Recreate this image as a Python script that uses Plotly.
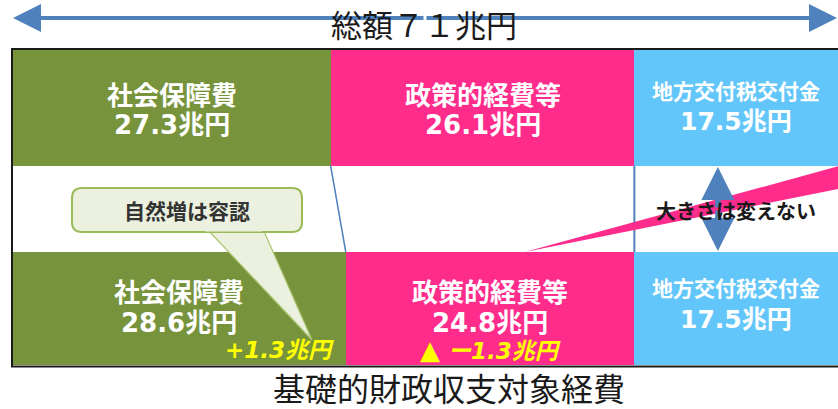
import plotly.graph_objects as go

# ---------------- data ----------------
categories = ["社会保障費", "政策的経費等", "地方交付税交付金"]
budget_before = [27.3, 26.1, 17.5]     # upper row (兆円)
budget_after = [28.6, 24.8, 17.5]      # lower row (兆円)
change_labels = ["+1.3兆円", "ー1.3兆円", ""]
total_label = "総額７１兆円"
bottom_title = "基礎的財政収支対象経費"
callout_text = "自然増は容認"
keep_text = "大きさは変えない"

# ---------------- style ----------------
colors = ["#77933C", "#FF2C8C", "#63C6FA"]
ARROW = "#4F81BD"
W, H = 838, 409
LEFT_PX = 13
total = sum(budget_before)
k = (W - LEFT_PX) / total
x_min = -LEFT_PX / k


def px(p):
    """pixel column -> x data value"""
    return (p - LEFT_PX) / k


TOP = (50, 166)
BOT = (252, 365)
top_c, bot_c = (TOP[0] + TOP[1]) / 2, (BOT[0] + BOT[1]) / 2

fig = go.Figure()
for i, cat in enumerate(categories):
    fig.add_trace(go.Bar(
        x=[budget_before[i], budget_after[i]],
        y=[top_c, bot_c],
        width=[TOP[1] - TOP[0], BOT[1] - BOT[0]],
        orientation="h",
        name=cat,
        marker=dict(color=colors[i], line=dict(width=0)),
        showlegend=False,
        hoverinfo="x+name",
    ))

cum_b = [sum(budget_before[:i]) for i in range(len(budget_before) + 1)]
cum_a = [sum(budget_after[:i]) for i in range(len(budget_after) + 1)]

shapes = []
# frame
shapes.append(dict(type="rect", xref="x", yref="y", x0=px(12), x1=px(W + 20),
                   y0=49, y1=366.5, line=dict(color="#1a1a1a", width=2),
                   fillcolor="rgba(0,0,0,0)", layer="above"))
# connector lines
shapes.append(dict(type="line", xref="x", yref="y", x0=cum_b[1], y0=TOP[1],
                   x1=cum_a[1], y1=BOT[0], line=dict(color=ARROW, width=1.5)))
shapes.append(dict(type="line", xref="x", yref="y", x0=cum_b[2], y0=TOP[1],
                   x1=cum_a[2], y1=BOT[0], line=dict(color=ARROW, width=2)))
# pink wedge
tip = cum_a[1] + 0.62 * budget_after[1]
shapes.append(dict(type="path", xref="x", yref="y",
                   path=f"M {tip},{BOT[0]} L {px(W + 5)},{TOP[1] - 1} L {px(W + 5)},{TOP[1] + 22} Z",
                   fillcolor=colors[1], line=dict(width=0)))
# callout tail
shapes.append(dict(type="path", xref="x", yref="y",
                   path=f"M {px(207)},229 L {px(312)},340 L {px(263)},229 Z",
                   fillcolor="#EBF1DE", line=dict(color="#A9C46E", width=1.2)))
# callout box (rounded)
bx0, bx1, by0, by1, r = 72, 302, 188, 232, 10
path = (f"M {px(bx0 + r)},{by0} L {px(bx1 - r)},{by0} Q {px(bx1)},{by0} {px(bx1)},{by0 + r} "
        f"L {px(bx1)},{by1 - r} Q {px(bx1)},{by1} {px(bx1 - r)},{by1} "
        f"L {px(bx0 + r)},{by1} Q {px(bx0)},{by1} {px(bx0)},{by1 - r} "
        f"L {px(bx0)},{by0 + r} Q {px(bx0)},{by0} {px(bx0 + r)},{by0} Z")
shapes.append(dict(type="path", xref="x", yref="y", path=path,
                   fillcolor="#EBF1DE", line=dict(color="#9BBB59", width=2)))
# cover tail top border inside box
shapes.append(dict(type="rect", xref="x", yref="y", x0=px(205), x1=px(262), y0=227, y1=231.5,
                   fillcolor="#EBF1DE", line=dict(width=0)))

annotations = []
LBL = "DejaVu Sans, Noto Sans CJK JP"
name_y = [93, 290]
val_y = [125, 323]
for row, (vals, cum) in enumerate([(budget_before, cum_b), (budget_after, cum_a)]):
    for i, cat in enumerate(categories):
        cx = (cum[i] + cum[i + 1]) / 2
        if i == 2:
            cx = (cum[i] + px(W)) / 2
        nsize = 21 if i == 2 else 26
        annotations.append(dict(x=cx, y=name_y[row] - (3 if i == 2 else 0), xref="x", yref="y",
                                text=f"<b>{cat}</b>", showarrow=False,
                                font=dict(family="Noto Sans CJK JP", size=nsize, color="white")))
        annotations.append(dict(x=cx, y=val_y[row] - (4 if i == 2 else 0), xref="x", yref="y",
                                text=f"<b>{vals[i]:.1f}兆円</b>", showarrow=False,
                                font=dict(family=LBL, size=26 if i < 2 else 25, color="white")))

# change labels
annotations.append(dict(x=cum_a[1], y=350, xref="x", yref="y", xanchor="right", xshift=-10,
                        text=f"<b><i>{change_labels[0]}</i></b>", showarrow=False,
                        font=dict(family=LBL, size=23, color="#FFFF00")))
annotations.append(dict(x=(cum_a[1] + cum_a[2]) / 2, y=350, xref="x", yref="y",
                        text=f"<b><span style='font-size:26px'>▲</span> <i>{change_labels[1]}</i></b>",
                        showarrow=False,
                        font=dict(family=LBL, size=23, color="#FFFF00")))

# total arrow
mid = px(425)
for end in (px(13), px(837)):
    annotations.append(dict(x=end, y=18, ax=mid, ay=18, xref="x", yref="y", axref="x", ayref="y",
                            text="", showarrow=True, arrowhead=2, arrowsize=1.4, arrowwidth=4,
                            arrowcolor=ARROW, standoff=0, startstandoff=0))
annotations.append(dict(x=px(424), y=23, xref="x", yref="y", text=total_label, showarrow=False,
                        font=dict(family="Noto Sans CJK JP", size=31, color="#1a1a1a")))

# vertical double arrow
xa = cum_a[2] + 0.41 * (px(W) - cum_a[2])
for end in (TOP[1] + 1, BOT[0] - 1):
    annotations.append(dict(x=xa, y=end, ax=xa, ay=209, xref="x", yref="y", axref="x", ayref="y",
                            text="", showarrow=True, arrowhead=2, arrowsize=1.2, arrowwidth=5.5,
                            arrowcolor=ARROW, standoff=0, startstandoff=0))
annotations.append(dict(x=(cum_a[2] + px(W)) / 2, y=210, xref="x", yref="y", text=f"<b>{keep_text}</b>",
                        showarrow=False, font=dict(family="Noto Sans CJK JP", size=20, color="#1a1a1a")))

# callout text
annotations.append(dict(x=px((bx0 + bx1) / 2), y=(by0 + by1) / 2, xref="x", yref="y",
                        text=f"<b>{callout_text}</b>", showarrow=False,
                        font=dict(family="Noto Sans CJK JP", size=21, color="#333333")))

# bottom title
annotations.append(dict(x=px(449), y=0, xref="x", yref="paper", yanchor="bottom", yshift=-2,
                        text=bottom_title, showarrow=False, borderpad=0,
                        font=dict(family="Noto Sans CJK JP", size=32, color="#1a1a1a")))

fig.update_layout(
    width=W, height=H, margin=dict(l=0, r=0, t=0, b=0),
    paper_bgcolor="white", plot_bgcolor="white",
    barmode="stack", bargap=0,
    xaxis=dict(range=[x_min, total], visible=False, fixedrange=True),
    yaxis=dict(range=[H, 0], visible=False, fixedrange=True),
    shapes=shapes, annotations=annotations,
)

fig.write_html("out.html")
